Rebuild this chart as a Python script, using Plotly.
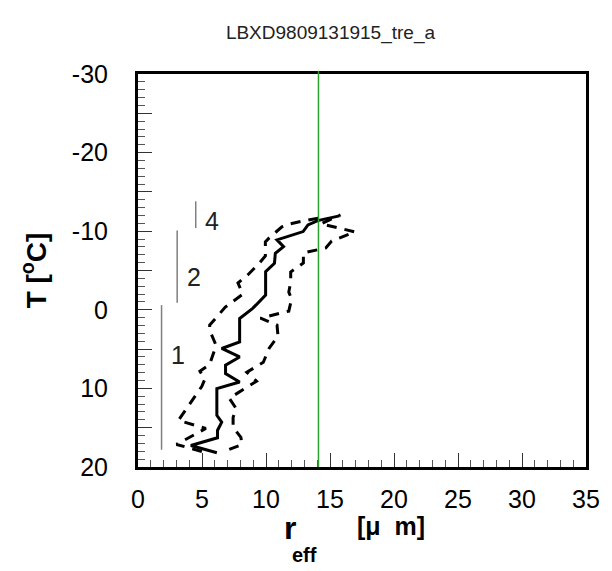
import plotly.graph_objects as go

title_text = "LBXD9809131915_tre_a"

# mean profile (solid)
mean_x = [6.16, 4.13, 6.21, 6.21, 6.54, 6.16, 6.16, 7.94, 6.84, 6.84, 7.94, 6.54, 7.94, 7.94,
          8.96, 9.97, 9.97, 10.66, 10.73, 11.37, 10.86, 12.9, 13.28, 14.04, 15.74]
mean_y = [18.19, 17.26, 16.28, 15.35, 14.29, 13.43, 10.03, 9.18, 8.11, 7.05, 6.0, 4.92, 4.08, 1.1,
          -0.18, -1.88, -4.85, -5.92, -7.19, -8.04, -8.89, -9.95, -10.8, -11.35, -11.95]

# lower bound (dashed, left)
low_x = [4.99, 3.01, 5.30, 3.16, 4.99, 5.22, 4.84, 5.60, 5.98, 6.06, 5.60, 5.60, 6.82, 8.19,
         7.81, 8.57, 9.49, 9.95, 9.95, 10.25, 11.24, 11.85, 12.92, 14.67]
low_y = [18.02, 17.13, 15.09, 14.07, 9.73, 8.84, 7.82, 6.93, 5.14, 4.38, 2.59, 1.95, -0.34, -2.0,
         -3.41, -4.43, -5.96, -6.85, -8.64, -9.15, -10.55, -10.93, -11.31, -11.82]

# upper bound (dashed, right)
high_x = [7.13, 8.12, 8.04, 7.43, 7.43, 7.66, 7.13, 9.26, 8.50, 9.79, 10.25, 10.94, 10.86, 9.57,
          11.78, 12.00, 11.78, 11.93, 11.93, 12.92, 12.92, 14.67, 15.13, 16.96, 14.29, 15.82]
high_y = [17.77, 17.13, 16.24, 14.96, 13.69, 12.54, 11.26, 9.09, 7.95, 6.67, 4.88, 3.35, 1.95, 1.06,
          0.17, -1.37, -2.26, -3.53, -4.81, -5.96, -7.23, -7.87, -8.76, -9.91, -10.93, -12.08]

# layer markers
layer_labels = ["1", "2", "4"]
layer_x = [1.84, 3.06, 4.51]
layer_top = [-0.6, -10.1, -13.8]
layer_bottom = [17.8, -0.9, -10.4]
label_x = [3.16, 4.38, 5.75]
label_y = [5.8, -4.2, -11.35]

ref_radius = 14.1

x_ticks = [0, 5, 10, 15, 20, 25, 30, 35]
y_ticks = [-30, -25, -20, -15, -10, -5, 0, 5, 10, 15, 20]
y_ticktext = ["-30", " ", "-20", " ", "-10", " ", "0", " ", "10", " ", "20"]

FONT = "Liberation Sans, Arial, Helvetica, sans-serif"

fig = go.Figure()

for lx, lt, lb in zip(layer_x, layer_top, layer_bottom):
    fig.add_trace(go.Scatter(x=[lx, lx], y=[lt, lb], mode="lines",
                             line=dict(color="#7f7f7f", width=1.5),
                             showlegend=False, hoverinfo="skip"))

fig.add_trace(go.Scatter(x=low_x, y=low_y, mode="lines",
                         line=dict(color="black", width=3, dash="10px,8px"), showlegend=False))
fig.add_trace(go.Scatter(x=high_x, y=high_y, mode="lines",
                         line=dict(color="black", width=3, dash="10px,8px"), showlegend=False))
fig.add_trace(go.Scatter(x=mean_x, y=mean_y, mode="lines",
                         line=dict(color="black", width=3), showlegend=False))

fig.add_shape(type="line", xref="x", yref="paper", x0=ref_radius, x1=ref_radius, y0=0, y1=1.008,
              line=dict(color="#2ca02c", width=1.5), layer="above")

for t, x, y in zip(layer_labels, label_x, label_y):
    fig.add_annotation(x=x, y=y, text=t, showarrow=False, xanchor="center", yanchor="middle",
                       font=dict(family=FONT, size=25, color="#222"))

fig.add_annotation(xref="paper", yref="paper", x=0.34, y=-0.105, xanchor="center", yanchor="top",
                   text="<b>r</b>", showarrow=False,
                   font=dict(family=FONT, size=32, color="black"))
fig.add_annotation(xref="paper", yref="paper", x=0.372, y=-0.19, xanchor="center", yanchor="top",
                   text="<b>eff</b>", showarrow=False,
                   font=dict(family=FONT, size=20, color="black"))
fig.add_annotation(xref="paper", yref="paper", x=0.565, y=-0.11, xanchor="center", yanchor="top",
                   text="<b>[μ&nbsp;&nbsp;m]</b>", showarrow=False,
                   font=dict(family=FONT, size=25, color="black"))

fig.update_layout(
    width=612, height=571,
    margin=dict(l=138, r=15, t=74, b=104),
    paper_bgcolor="white", plot_bgcolor="white",
    title=dict(text=title_text, x=0.54, xanchor="center", y=0.944, yanchor="middle",
               font=dict(family=FONT, size=19, color="#222")),
    font=dict(family=FONT, color="black"),
    xaxis=dict(range=[0, 35], tickvals=x_ticks, ticks="inside", ticklen=14, tickwidth=1,
               tickcolor="#333", showline=True, linewidth=3, linecolor="black", mirror=True,
               showgrid=False, zeroline=False, tickfont=dict(size=25),
               ticklabelstandoff=8,
               minor=dict(dtick=1, ticks="inside", ticklen=7, tickwidth=1, tickcolor="#555",
                          showgrid=False)),
    yaxis=dict(range=[20, -30], tickvals=y_ticks, ticktext=y_ticktext, ticks="inside",
               ticklen=14, tickwidth=1, tickcolor="#333", showline=True, linewidth=3,
               linecolor="black", mirror=True, showgrid=False, zeroline=False,
               tickfont=dict(size=25), ticklabelstandoff=22,
               title=dict(text="<b>T [<sup>o</sup>C]</b>", font=dict(size=28), standoff=18),
               minor=dict(dtick=1, ticks="inside", ticklen=7, tickwidth=1, tickcolor="#555",
                          showgrid=False)),
)

fig.write_html("out.html")
